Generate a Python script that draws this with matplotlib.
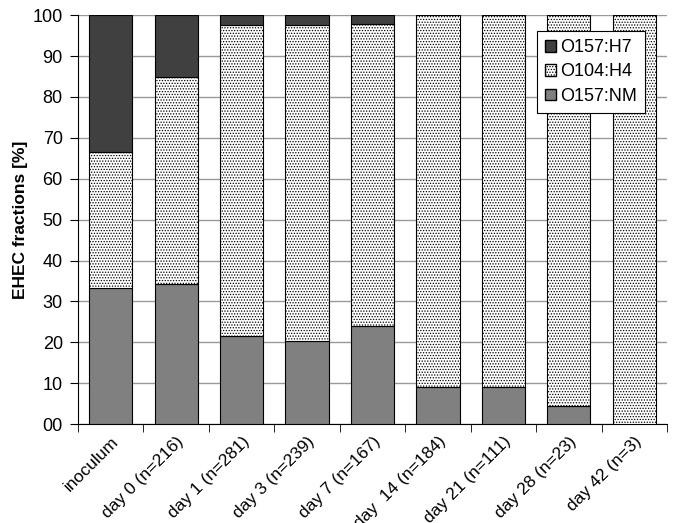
import matplotlib.pyplot as plt
import matplotlib.patches as mpatches
import numpy as np

plt.rcParams['font.family'] = ['Liberation Sans', 'DejaVu Sans']
plt.rcParams['hatch.color'] = '#555555'
plt.rcParams['hatch.linewidth'] = 0.6

categories = ["inoculum", "day 0 (n=216)", "day 1 (n=281)", "day 3 (n=239)",
              "day 7 (n=167)", "day  14 (n=184)", "day 21 (n=111)",
              "day 28 (n=23)", "day 42 (n=3)"]
o157_nm = [33.3, 34.2, 21.5, 20.4, 24.0, 9.2, 9.0, 4.4, 0.0]
o104_h4 = [33.2, 50.8, 76.0, 77.1, 73.8, 90.8, 91.0, 95.6, 100.0]
o157_h7 = [33.5, 15.0, 2.5, 2.5, 2.2, 0.0, 0.0, 0.0, 0.0]

fig = plt.figure(figsize=(6.73, 5.23), dpi=100)
ax = fig.add_axes([0.116, 0.189, 0.875, 0.782])

x = np.arange(len(categories))
w = 0.66
nm = np.array(o157_nm)
h4 = np.array(o104_h4)
h7 = np.array(o157_h7)

ax.bar(x, nm, w, color='#808080', edgecolor='black', linewidth=0.8, zorder=3)
ax.bar(x, h4, w, bottom=nm, color='white', edgecolor='black', linewidth=0.8,
       hatch='......', zorder=3)
ax.bar(x, h7, w, bottom=nm + h4, color='#404040', edgecolor='black', linewidth=0.8, zorder=3)

ax.set_xlim(-0.5, len(categories) - 0.5)
ax.set_ylim(0, 100)
ax.set_yticks(range(0, 101, 10))
ax.set_yticklabels([f"{v:02d}" for v in range(0, 101, 10)], fontsize=13)
ax.yaxis.grid(True, color='#999999', linewidth=1, zorder=0)

ax.set_xticks(x)
ax.set_xticklabels(categories, rotation=45, ha='right', rotation_mode='anchor', fontsize=12.5)
ax.tick_params(axis='x', length=0, pad=7)
ax.set_xticks(np.arange(-0.5, len(categories)), minor=True)
ax.tick_params(axis='x', which='minor', length=6, direction='out')
ax.tick_params(axis='y', length=6, direction='out', pad=5)

for s in ['top', 'right']:
    ax.spines[s].set_visible(False)

ax.set_ylabel("EHEC fractions [%]", fontsize=12.5, fontweight='bold', labelpad=3)

handles = [mpatches.Patch(facecolor='#404040', edgecolor='black', label='O157:H7'),
           mpatches.Patch(facecolor='white', edgecolor='black', hatch='......', label='O104:H4'),
           mpatches.Patch(facecolor='#808080', edgecolor='black', label='O157:NM')]
leg = ax.legend(handles=handles, loc='upper right', bbox_to_anchor=(0.963, 0.961),
                borderaxespad=0, fontsize=13, fancybox=False, framealpha=1,
                edgecolor='black', handlelength=0.6, handleheight=0.6,
                handletextpad=0.25, borderpad=0.45, labelspacing=0.4)
leg.get_frame().set_linewidth(0.8)
leg.set_zorder(5)

fig.savefig("out.png", dpi=100)
